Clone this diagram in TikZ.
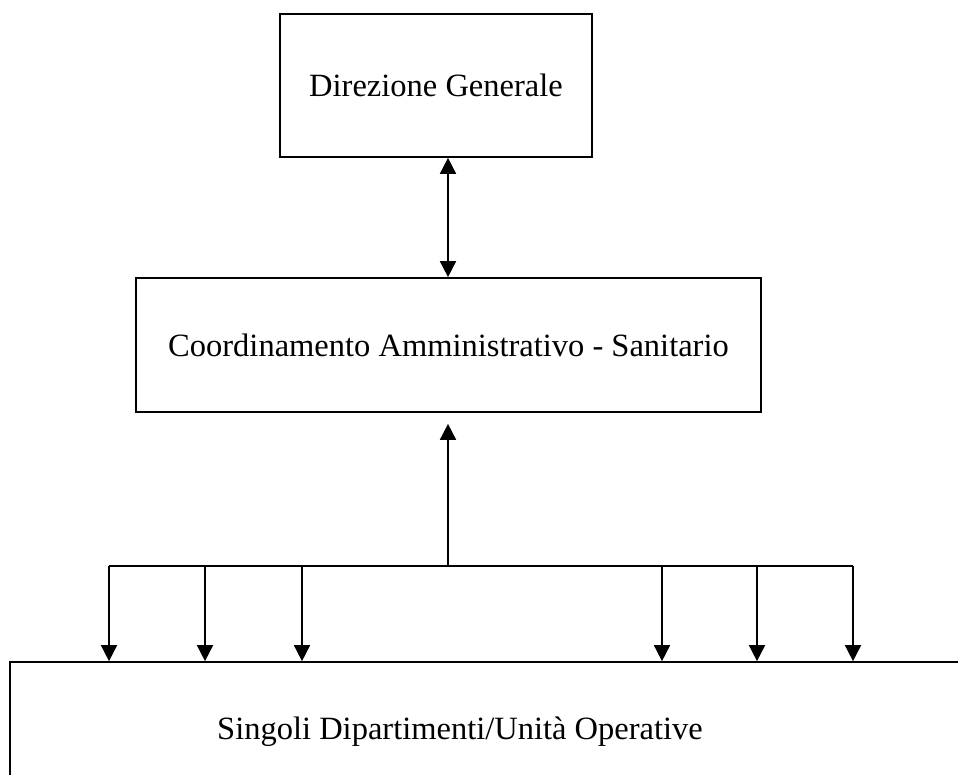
\documentclass[tikz,border=0pt]{standalone}
\usepackage{fontspec}
\setmainfont{Liberation Serif}
\usetikzlibrary{arrows.meta}
\begin{document}
\begin{tikzpicture}[x=1pt,y=-1pt,
  box/.style={draw,line width=1.7pt,rectangle,inner sep=0pt},
  lbl/.style={font=\fontsize{32.5}{38}\selectfont,inner sep=0pt},
  conn/.style={line width=1.7pt},
  arr/.style={conn,-{Triangle[width=16pt,length=16pt]}},
  darr/.style={conn,{Triangle[width=16pt,length=16pt]}-{Triangle[width=16pt,length=16pt]}}]
\useasboundingbox (0,0) rectangle (958,775);
\clip (0,0) rectangle (958,775);
\node[box,minimum width=312pt,minimum height=143pt,lbl] (top) at (436,85.5) {Direzione Generale};
\node[box,minimum width=625pt,minimum height=134pt,lbl] (mid) at (448.5,345) {Coordinamento Amministrativo - Sanitario};
\node[box,minimum width=980pt,minimum height=160pt] (bot) at (500,742) {};
\node[lbl] (botlbl) at (460,732) {Singoli Dipartimenti/Unità Operative};
\coordinate (hub) at (448,566);
\coordinate (b1) at (109,566);
\coordinate (b2) at (205,566);
\coordinate (b3) at (302,566);
\coordinate (b4) at (662,566);
\coordinate (b5) at (757,566);
\coordinate (b6) at (853,566);
\draw[darr] (top.south -| hub) -- (mid.north -| hub);
\draw[arr,shorten >=11pt] (hub) -- (hub |- mid.south);
\draw[conn] (b1) -- (b6);
\foreach \b in {b1,b2,b3,b4,b5,b6}{
  \draw[arr] (\b) -- (\b |- bot.north);
}
\end{tikzpicture}
\end{document}
